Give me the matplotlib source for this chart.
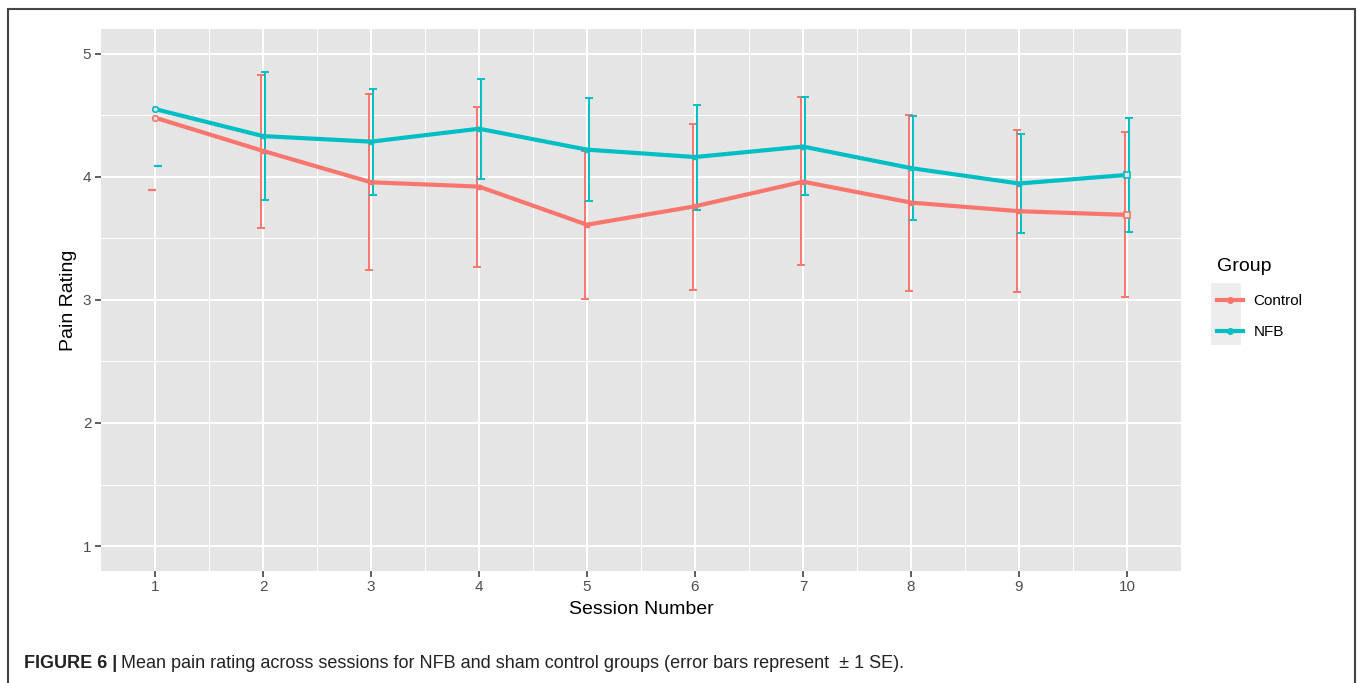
import numpy as np
import matplotlib
matplotlib.use("Agg")
import matplotlib.pyplot as plt
from matplotlib.patches import Rectangle
from matplotlib.lines import Line2D

plt.rcParams['font.family'] = ['Liberation Sans', 'DejaVu Sans']

#%% data
sessions = np.arange(1, 11)
control_mean = [4.48, 4.21, 3.955, 3.92, 3.61, 3.76, 3.96, 3.79, 3.72, 3.69]
control_hi = [np.nan, 4.83, 4.67, 4.57, 4.21, 4.43, 4.65, 4.50, 4.38, 4.36]
control_lo = [np.nan, 3.58, 3.24, 3.27, 3.005, 3.08, 3.28, 3.07, 3.06, 3.02]
nfb_mean = [4.55, 4.33, 4.285, 4.39, 4.22, 4.16, 4.245, 4.07, 3.945, 4.015]
nfb_hi = [np.nan, 4.85, 4.715, 4.79, 4.64, 4.585, 4.645, 4.495, 4.35, 4.48]
nfb_lo = [np.nan, 3.81, 3.85, 3.98, 3.80, 3.73, 3.85, 3.645, 3.54, 3.555]
# session 1 only shows a single stray cap for each group
control_s1_cap = 3.89
nfb_s1_cap = 4.09

red = '#F8766D'
teal = '#00BFC4'

#%%
fig = plt.figure(figsize=(13.58, 6.83), dpi=100)
ax = fig.add_axes([101/1358, 1 - 570.7/683, 1080/1358, 541.7/683])

ax.set_facecolor('#E5E5E5')
for s in ax.spines.values():
    s.set_visible(False)
ax.set_xlim(0.5, 10.5)
ax.set_ylim(0.8, 5.2)
ax.set_xticks(sessions)
ax.set_yticks([1, 2, 3, 4, 5])
ax.set_xticks(np.arange(1.5, 10.5, 1), minor=True)
ax.set_yticks(np.arange(1.5, 5.0, 1), minor=True)
ax.grid(which='major', color='white', lw=1.4)
ax.grid(which='minor', color='white', lw=0.7)
ax.set_axisbelow(True)
ax.tick_params(which='major', length=4, width=1.1, color='#333333',
               labelcolor='#4D4D4D', labelsize=11, pad=3)
ax.tick_params(which='minor', length=0)
ax.set_xlabel('Session Number', fontsize=14, labelpad=5)
ax.set_ylabel('Pain Rating', fontsize=14, labelpad=4)

dodge = 0.023
ax.errorbar(sessions - dodge, control_mean,
            yerr=[np.array(control_mean) - np.array(control_lo),
                  np.array(control_hi) - np.array(control_mean)],
            fmt='none', ecolor=red, elinewidth=1.4, capsize=3, capthick=1.4, zorder=3)
ax.errorbar(sessions + dodge, nfb_mean,
            yerr=[np.array(nfb_mean) - np.array(nfb_lo),
                  np.array(nfb_hi) - np.array(nfb_mean)],
            fmt='none', ecolor=teal, elinewidth=1.4, capsize=3, capthick=1.4, zorder=3)
ax.plot([1 - 0.025], [control_s1_cap], marker='_', ms=6, mew=1.6, color=red, zorder=3)
ax.plot([1 + 0.03], [nfb_s1_cap], marker='_', ms=6, mew=1.6, color=teal, zorder=3)

ax.plot(sessions, control_mean, color=red, lw=3, marker='s', ms=3, zorder=4)
ax.plot(sessions, nfb_mean, color=teal, lw=3, marker='s', ms=3, zorder=4)
for m, c in [(control_mean, red), (nfb_mean, teal)]:
    ax.plot([1], [m[0]], marker='o', ms=4, mfc='#E5E5E5', mec=c, mew=1.2, zorder=5)
    ax.plot([10], [m[-1]], marker='s', ms=4, mfc='#E5E5E5', mec=c, mew=1.2, zorder=5)

#%% legend
fig.patches.append(Rectangle((1211/1358, 1 - 345/683), 30/1358, 62/683,
                             transform=fig.transFigure, color='#EDEDED', lw=0))
handles = [Line2D([], [], color=red, lw=3, marker='o', ms=4),
           Line2D([], [], color=teal, lw=3, marker='o', ms=4)]
leg = fig.legend(handles, ['Control', 'NFB'], title='Group',
                 loc='upper left', bbox_to_anchor=(1203/1358, 1 - 244/683),
                 frameon=False, fontsize=11, title_fontsize=14,
                 handlelength=1.75, handletextpad=0.65, labelspacing=1.12)
leg._legend_box.align = 'left'
leg._legend_box.sep = 14

#%% border and caption
fig.patches.append(Rectangle((8/1358, -0.05), 1347/1358, 1.05 - 9/683,
                             transform=fig.transFigure, fill=False,
                             edgecolor='#444444', lw=1.5))
t1 = fig.text(24/1358, 1 - 663/683, 'FIGURE 6 |', fontsize=13, weight='bold',
              va='center', color='#222222')
fig.canvas.draw()
bb = t1.get_window_extent()
fig.text(bb.x1/1358 + 4/1358, 1 - 663/683,
         'Mean pain rating across sessions for NFB and sham control groups (error bars represent  \u00b1 1 SE).',
         fontsize=13, va='center', color='#222222')

fig.savefig('out.png', dpi=100)
